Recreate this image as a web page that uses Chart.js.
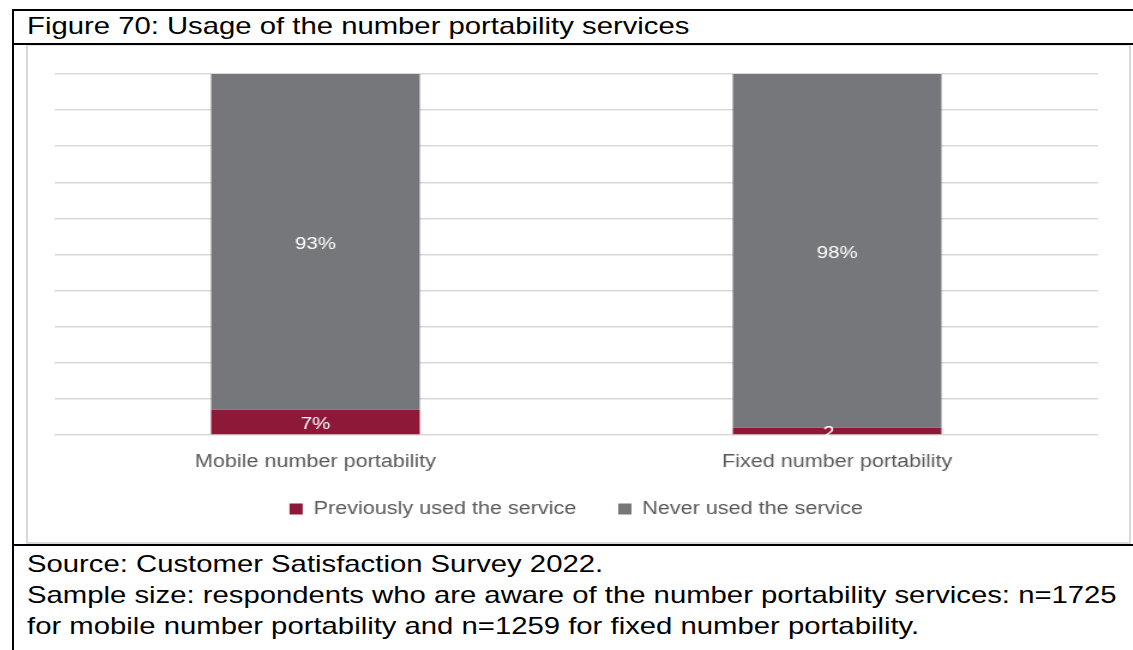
<!DOCTYPE html>
<html>
<head>
<meta charset="utf-8">
<script src="https://cdn.jsdelivr.net/npm/chart.js@4"></script>
<style>
  body { margin: 0; background: #fff; font-family: "Liberation Sans", Arial, sans-serif; }
  #frame { position: absolute; left: 12px; top: 9px; width: 1121px; height: 641px;
           border-left: 2px solid #000; border-top: 2px solid #000; }
  #title { position: absolute; left: 27px; top: 12px; font-size: 24px; color: #000;
           white-space: nowrap; transform: scaleX(1.22); transform-origin: left top; }
  #sep1 { position: absolute; left: 12px; top: 43px; width: 1121px; height: 2px; background: #000; }
  #sep2 { position: absolute; left: 12px; top: 544px; width: 1121px; height: 2px; background: #000; }
  #box { position: absolute; left: 26px; top: 45px; width: 1101px; height: 496px;
         border: 2px solid #d9d9d9; border-top: 1px solid #e6e6e6; }
  #chartWrap { position: absolute; left: 27px; top: 46px; width: 918px; height: 495px;
               transform: scaleX(1.1993); transform-origin: left top; }
  .note { position: absolute; left: 27px; font-size: 24px; color: #000;
          white-space: nowrap; transform: scaleX(1.22); transform-origin: left top; }
</style>
</head>
<body>
<div id="frame"></div>
<div id="title">Figure 70: Usage of the number portability services</div>
<div id="sep1"></div>
<div id="box"></div>
<div id="chartWrap"><canvas id="myChart" width="918" height="495"></canvas></div>
<div id="sep2"></div>
<div class="note" style="top:550px">Source: Customer Satisfaction Survey 2022.</div>
<div class="note" style="top:581px">Sample size: respondents who are aware of the number portability services: n=1725</div>
<div class="note" style="top:612px">for mobile number portability and n=1259 for fixed number portability.</div>

<script>
var categories = ['Mobile number portability', 'Fixed number portability'];
var seriesNames = ['Previously used the service', 'Never used the service'];
var previouslyUsed = [7, 2];
var neverUsed = [93, 98];
var yTicks = [0, 10, 20, 30, 40, 50, 60, 70, 80, 90, 100];

// white value labels in the middle of each segment, cut short like Excel when too thin
var barLabels = {
    id: 'barLabels',
    afterLayout: function(chart) {
        // let the category labels hang below the squeezed x axis box
        chart.scales.x.bottom = chart.height;
    },
    afterDatasetsDraw: function(chart) {
        var ctx = chart.ctx;
        ctx.save();
        ctx.fillStyle = '#ffffff';
        ctx.font = '17px "Liberation Sans", Arial, sans-serif';
        ctx.textAlign = 'center';
        ctx.textBaseline = 'middle';
        chart.data.datasets.forEach(function(ds, i) {
            chart.getDatasetMeta(i).data.forEach(function(bar, j) {
                var txt = ds.data[j] + '%';
                var h = Math.abs(bar.base - bar.y);
                if (h < 14) txt = String(ds.data[j]).charAt(0) + '...';
                ctx.fillText(txt, bar.x, (bar.y + bar.base) / 2 + 2);
            });
        });
        ctx.restore();
    }
};

var ctx = document.getElementById('myChart');
var myChart = new Chart(ctx, {
    type: 'bar',
    data: {
        labels: categories,
        datasets: [{
            label: seriesNames[0],
            data: previouslyUsed,
            backgroundColor: '#8e1838'
        }, {
            label: seriesNames[1],
            data: neverUsed,
            backgroundColor: '#76777b'
        }]
    },
    options: {
        responsive: false,
        animation: false,
        layout: { padding: { left: 23, right: 25, top: 28, bottom: 13 } },
        datasets: { bar: { categoryPercentage: 1, barPercentage: 0.4 } },
        scales: {
            x: {
                stacked: true,
                grid: { display: false, drawTicks: false },
                border: { display: false },
                ticks: { color: '#595959', padding: 16, font: { size: 18, family: '"Liberation Sans", Arial, sans-serif' } },
                afterFit: function(scale) { scale.height = 30; }
            },
            y: {
                stacked: true,
                min: 0,
                max: 100,
                afterBuildTicks: function(axis) {
                    axis.ticks = yTicks.map(function(v) { return { value: v }; });
                },
                ticks: { display: false },
                border: { display: false },
                grid: { color: '#d9d9d9', lineWidth: 1.5, drawTicks: false }
            }
        },
        plugins: {
            legend: {
                position: 'bottom',
                labels: {
                    boxWidth: 11,
                    boxHeight: 11,
                    padding: 35,
                    color: '#595959',
                    font: { size: 18, family: '"Liberation Sans", Arial, sans-serif' }
                }
            },
            tooltip: { enabled: false }
        }
    },
    plugins: [barLabels]
});
</script>
</body>
</html>
